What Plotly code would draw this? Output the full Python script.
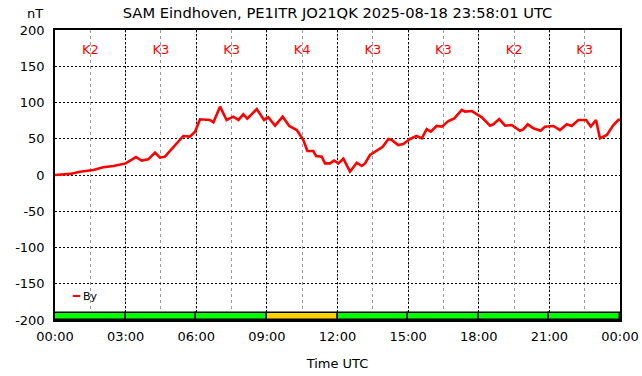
import plotly.graph_objects as go

# ---- data ----
hours = [0.0, 0.64, 1.06, 1.63, 2.05, 2.48, 3.0, 3.44, 3.68, 3.96, 4.25, 4.46, 4.67, 5.03, 5.45,
         5.73, 5.95, 6.16, 6.58, 6.73, 7.01, 7.29, 7.58, 7.79, 8.0, 8.17, 8.57, 8.88, 9.06, 9.35,
         9.67, 9.95, 10.27, 10.55, 10.72, 10.97, 11.09, 11.33, 11.47, 11.68, 11.85, 12.04, 12.25,
         12.53, 12.82, 13.03, 13.17, 13.38, 13.73, 13.92, 14.16, 14.3, 14.58, 14.8, 15.08, 15.36,
         15.58, 15.79, 15.96, 16.21, 16.43, 16.71, 16.96, 17.28, 17.42, 17.7, 17.91, 18.13, 18.48,
         18.62, 18.87, 19.12, 19.4, 19.75, 19.89, 20.08, 20.32, 20.63, 20.81, 21.17, 21.45, 21.74,
         21.95, 22.23, 22.56, 22.76, 22.98, 23.15, 23.44, 23.72, 23.93, 24.0]
by_nT = [0.0, 1.5, 4.6, 7.0, 10.6, 12.4, 16.0, 24.8, 19.8, 21.6, 30.8, 23.9, 25.3, 39.0, 53.8,
         52.9, 59.8, 76.8, 75.9, 72.6, 94.3, 75.9, 80.5, 75.9, 83.7, 77.7, 91.0, 75.9, 79.6, 68.0,
         80.5, 67.6, 62.0, 48.3, 33.1, 33.1, 26.2, 25.3, 16.1, 16.1, 20.0, 16.0, 22.5,
         4.6, 17.0, 12.4, 16.0, 27.6, 34.5, 39.0, 49.7, 48.3, 41.4, 42.8, 49.7, 53.8,
         50.6, 63.4, 59.8, 67.6, 66.7, 74.5, 78.2, 89.7, 87.4, 88.3, 84.0, 79.6, 68.0,
         69.9, 77.2, 68.0, 69.0, 61.1, 63.0, 69.9, 64.4, 61.1, 66.7, 67.6, 62.0, 69.9,
         67.6, 75.9, 75.9, 66.7, 75.9, 50.6, 55.2, 69.0, 75.9, 76.5]

k_block_start = [0, 3, 6, 9, 12, 15, 18, 21]
k_index = [2, 3, 3, 4, 3, 3, 2, 3]
k_colors = {2: "#00ff00", 3: "#00ff00", 4: "#ffd200"}

tick_hours = [0, 3, 6, 9, 12, 15, 18, 21, 24]
tick_labels = ["00:00", "03:00", "06:00", "09:00", "12:00", "15:00", "18:00", "21:00", "00:00"]
y_ticks = [-200, -150, -100, -50, 0, 50, 100, 150, 200]
y_tick_labels = ["-200", "-150", "-100", "-50", "0", "50", "100", "150", "200"]

title_text = "SAM Eindhoven, PE1ITR JO21QK 2025-08-18 23:58:01 UTC"
FONT = "DejaVu Sans"

fig = go.Figure()

# K-index bar strip at the bottom
fig.add_trace(go.Bar(
    x=[s + 1.5 for s in k_block_start],
    y=[10] * len(k_index),
    base=-200,
    width=3,
    marker=dict(color=[k_colors[k] for k in k_index], line=dict(color="black", width=1.5)),
    showlegend=False, hoverinfo="skip",
))

# By line
fig.add_trace(go.Scatter(
    x=hours, y=by_nT, mode="lines", name="By",
    line=dict(color="#ff0000", width=2.6), showlegend=False,
))

# K labels
fig.add_trace(go.Scatter(
    x=[s + 1.5 for s in k_block_start], y=[172] * len(k_index),
    mode="text", text=[f"K{k}" for k in k_index],
    textfont=dict(color="#ff0000", size=13, family=FONT),
    showlegend=False, hoverinfo="skip",
))

fig.update_layout(
    width=642, height=376,
    margin=dict(l=55, r=22, t=30, b=56, autoexpand=False),
    paper_bgcolor="white", plot_bgcolor="white",
    font=dict(family=FONT, size=13, color="black"),
    title=dict(text=title_text, x=337.5 / 642, xanchor="center", xref="container",
               yref="container", y=1 - 13 / 376, yanchor="middle", automargin=False,
               font=dict(size=14.7, family=FONT, color="black")),
    bargap=0,
    xaxis=dict(
        range=[0, 24], tickvals=tick_hours, ticktext=tick_labels, automargin=False,
        showline=True, linecolor="black", linewidth=1.5, mirror=True,
        showgrid=True, gridcolor="black", griddash="2px,2px", gridwidth=1,
        ticks="", zeroline=False, ticklabelstandoff=4,
        minor=dict(dtick=1.5, tick0=0, showgrid=True, gridcolor="#999999", griddash="3px,3px", gridwidth=1),
        title=dict(text="Time UTC", font=dict(size=13, family=FONT), standoff=16),
    ),
    yaxis=dict(
        range=[-200, 200], tickvals=y_ticks, ticktext=y_tick_labels, automargin=False,
        showline=True, linecolor="black", linewidth=1.5, mirror=True,
        showgrid=True, gridcolor="black", griddash="2px,2px", gridwidth=1,
        ticks="", zeroline=False, ticklabelstandoff=6,
    ),
    annotations=[
        dict(text="nT", xref="paper", yref="paper", x=(35 - 55) / 565, y=(320 - 14) / 290,
             xanchor="center", yanchor="middle", showarrow=False, font=dict(size=13, family=FONT)),
        dict(text="━", xref="paper", yref="paper",
             x=(76.5 - 55) / 565, y=(320 - 296) / 290, xanchor="center", yanchor="middle",
             showarrow=False, font=dict(size=12, family=FONT, color="#ff0000")),
        dict(text="By", xref="paper", yref="paper",
             x=(80.5 - 55) / 565, y=(320 - 296) / 290, xanchor="left", yanchor="middle",
             showarrow=False, font=dict(size=11, family=FONT, color="black")),
    ],
)

fig.write_html("out.html", config={"displayModeBar": False},
               post_script="document.body.style.margin='0';")
